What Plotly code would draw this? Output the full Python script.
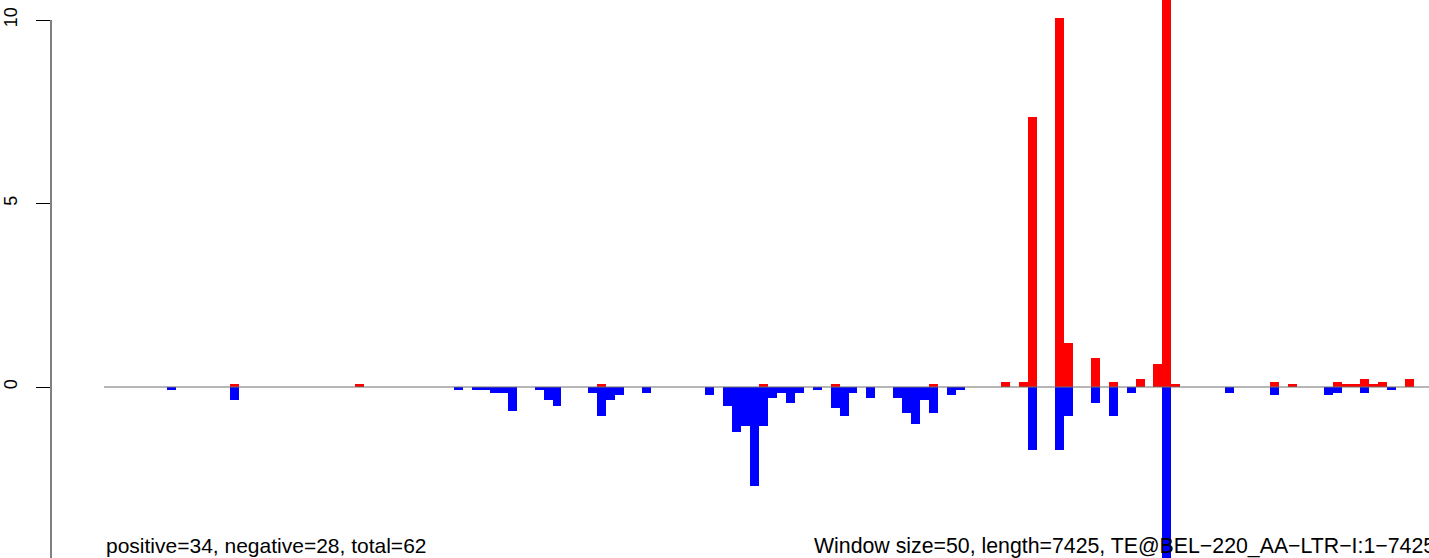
import plotly.graph_objects as go

# Window index (50 bp windows) and signal values
pos_bins = [14, 28, 55, 73, 81, 92, 100, 102, 103, 106, 107, 110, 112, 115, 117, 118, 119,
            130, 132, 137, 138, 139, 140, 141, 142, 145]
pos_vals = [0.08, 0.08, 0.08, 0.08, 0.08, 0.08, 0.14, 0.14, 7.36, 10.06, 1.21, 0.80, 0.14, 0.23, 0.64, 12.0, 0.08,
            0.14, 0.08, 0.14, 0.08, 0.08, 0.23, 0.08, 0.14, 0.23]

neg_bins = [7, 14, 39, 41, 42, 43, 44, 45, 48, 49, 50, 54, 55, 56, 57, 60, 67, 69, 70, 71, 72, 73,
            74, 75, 76, 77, 79, 81, 82, 83, 85, 88, 89, 90, 91, 92, 94, 95, 103, 106, 107, 110, 112,
            114, 118, 125, 130, 136, 137, 140, 143]
neg_vals = [-0.08, -0.35, -0.08, -0.08, -0.08, -0.155, -0.155, -0.65, -0.08, -0.35, -0.51, -0.155, -0.78,
            -0.35, -0.21, -0.155, -0.21, -0.51, -1.22, -1.05, -2.69, -1.05, -0.29, -0.155, -0.43, -0.155,
            -0.07, -0.56, -0.78, -0.155, -0.29, -0.29, -0.70, -1.0, -0.35, -0.70, -0.21, -0.07, -1.71,
            -1.71, -0.78, -0.43, -0.78, -0.155, -6.0, -0.155, -0.21, -0.21, -0.155, -0.155, -0.08]

n_windows = 149
y_ticks = [0, 5, 10]
left_text = "positive=34, negative=28, total=62"
right_text = "Window size=50, length=7425, TE@BEL\u2212220_AA\u2212LTR\u2212I:1\u22127425"

FONT = "Liberation Sans, Arial, Helvetica, sans-serif"
X_RANGE = [-5.909, 147.715]

fig = go.Figure()
fig.add_trace(go.Bar(x=[b + 0.5 for b in pos_bins], y=pos_vals, width=1,
                     marker=dict(color="#FF0000", line=dict(width=0)), hoverinfo="skip"))
fig.add_trace(go.Bar(x=[b + 0.5 for b in neg_bins], y=neg_vals, width=1,
                     marker=dict(color="#0000FF", line=dict(width=0)), hoverinfo="skip"))

# zero line
fig.add_shape(type="line", x0=0, x1=n_windows, y0=0, y1=0, xref="x", yref="y",
              line=dict(color="#6e6e6e", width=1), layer="above")
# y axis line (R style: from first tick downwards)
fig.add_shape(type="line", x0=0, x1=0, y0=-6, y1=10, xref="paper", yref="y",
              line=dict(color="black", width=1), layer="above")

fig.add_annotation(x=0, y=-4.33, xref="x", yref="y", text=left_text, showarrow=False,
                   xanchor="left", yanchor="middle", font=dict(family=FONT, size=21, color="black"))
fig.add_annotation(x=78.93, y=-4.33, xref="x", yref="y", text=right_text, showarrow=False,
                   xanchor="left", yanchor="middle", font=dict(family=FONT, size=21.3, color="black"))

fig.update_layout(
    width=1429, height=558,
    margin=dict(l=51, r=0, t=0, b=0),
    paper_bgcolor="white", plot_bgcolor="white",
    barmode="overlay", bargap=0, showlegend=False,
    xaxis=dict(range=X_RANGE, visible=False, fixedrange=True),
    yaxis=dict(range=[-4.659, 10.545], tickvals=y_ticks, ticktext=[str(v) for v in y_ticks],
               ticks="outside", ticklen=14, tickwidth=1, tickcolor="black",
               tickangle=-90, ticklabelstandoff=12,
               tickfont=dict(family=FONT, size=18, color="black"),
               showgrid=False, zeroline=False, showline=False, fixedrange=True),
)

fig.write_html("out.html", config={"displayModeBar": False},
               post_script="document.body.style.margin='0px';document.body.style.overflow='hidden';")
